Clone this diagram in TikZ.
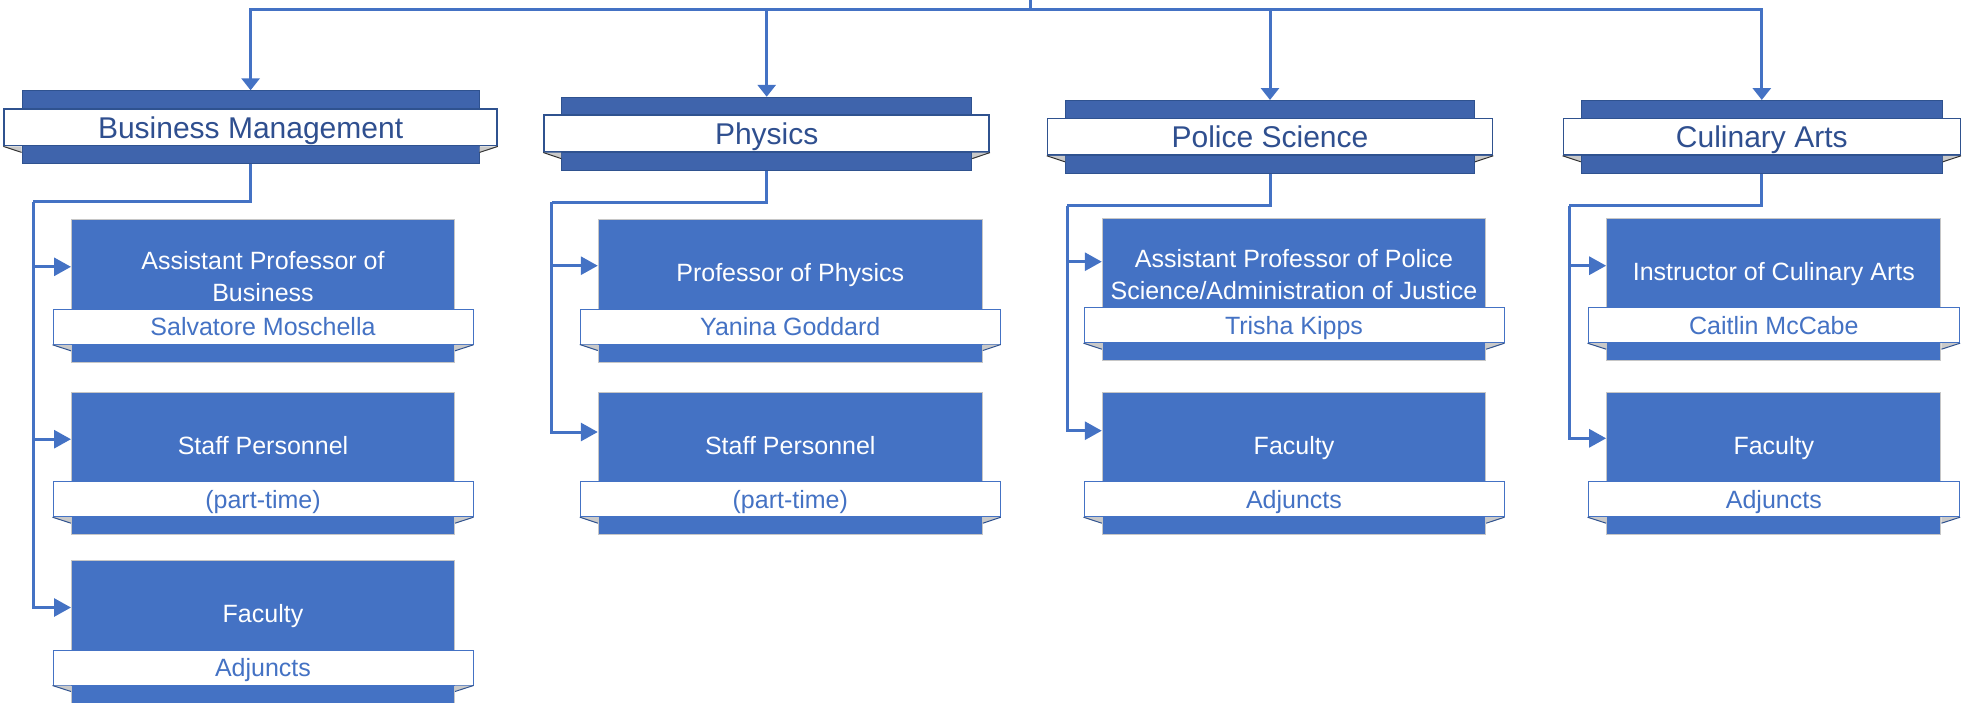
\documentclass[tikz,border=0pt]{standalone}
\usepackage{fontspec}
\setmainfont{Liberation Sans}
\usetikzlibrary{arrows.meta}

\definecolor{bandblue}{HTML}{3F64AC}
\definecolor{bandedge}{HTML}{2F528F}
\definecolor{boxblue}{HTML}{4472C4}
\definecolor{headtext}{HTML}{2F4F8F}
\definecolor{foldgray}{HTML}{C9C9C9}

% folded ends under a ribbon: ribbon, box behind it, colour of the crease
\newcommand{\ribbonfold}[3]{%
  \fill[foldgray] (#1.south west) -- (#2.west |- #1.south) -- ++(0,6) -- cycle;
  \draw[#3,line width=1pt] (#2.west |- #1.south) ++(0,6) -- (#1.south west);
  \fill[foldgray] (#1.south east) -- (#2.east |- #1.south) -- ++(0,6) -- cycle;
  \draw[#3,line width=1pt] (#2.east |- #1.south) ++(0,6) -- (#1.south east);}

\begin{document}
\begin{tikzpicture}[x=1pt,y=-1pt,
  link/.style={draw=boxblue,line width=3pt},
  down/.style={link,-{Triangle[length=12pt,width=18pt]}},
  side/.style={link,-{Triangle[length=17pt,width=18pt]}},
  headband/.style={rectangle,fill=bandblue,draw=bandedge,line width=1pt,minimum height=73pt,inner sep=0pt},
  headribbon/.style={rectangle,fill=white,draw=bandedge,line width=1.5pt,minimum height=36.7pt,inner sep=0pt,text=headtext,font=\fontsize{30}{36}\selectfont,text height=21.5pt,text depth=0pt},
  unitbox/.style={rectangle,fill=boxblue,draw=gray!45,line width=1pt,minimum height=142.5pt,inner sep=0pt,anchor=north},
  unitribbon/.style={rectangle,fill=white,draw=boxblue,line width=1pt,minimum height=35pt,inner sep=0pt,text=boxblue,font=\fontsize{25}{30}\selectfont,text height=17.9pt,text depth=0pt},
  unittext/.style={text=white,inner sep=0pt,font=\fontsize{25}{32}\selectfont,text height=17.9pt,text depth=0pt},
  unittwo/.style={text=white,inner sep=0pt,align=center,font=\fontsize{25}{32}\selectfont}]
\useasboundingbox (0,0) rectangle (1965,702);
\clip (0,0) rectangle (1965,702);

% department heads
\node[headband,minimum width=457pt] (bmband) at (250.6,127.3) {};
\node[headribbon,minimum width=493pt] (bmhead) at (250.6,127.3) {Business Management};
\node[headband,minimum width=410pt] (phband) at (766.7,133.8) {};
\node[headribbon,minimum width=445pt] (phhead) at (766.7,133.5) {Physics};
\node[headband,minimum width=409pt] (psband) at (1270,137) {};
\node[headribbon,minimum width=445pt] (pshead) at (1270,136.7) {Police Science};
\node[headband,minimum width=361pt] (caband) at (1761.8,137) {};
\node[headribbon,minimum width=397pt] (cahead) at (1761.8,136.7) {Culinary Arts};

% Business Management
\node[unitbox,minimum width=383pt] (bm1) at (263,219.3) {};
\node[unittwo] (bm1t) at (263,276.3) {Assistant Professor of\\Business};
\node[unitribbon,minimum width=420pt] (bm1r) at (263,326.8) {Salvatore Moschella};
\node[unitbox,minimum width=383pt] (bm2) at (263,391.7) {};
\node[unittext] (bm2t) at (263,445.7) {Staff Personnel};
\node[unitribbon,minimum width=420pt] (bm2r) at (263,499.2) {(part-time)};
\node[unitbox,minimum width=383pt] (bm3) at (263,560) {};
\node[unittext] (bm3t) at (263,614) {Faculty};
\node[unitribbon,minimum width=420pt] (bm3r) at (263,667.5) {Adjuncts};

% Physics
\node[unitbox,minimum width=384pt] (ph1) at (790.3,219) {};
\node[unittext] (ph1t) at (790.3,273) {Professor of Physics};
\node[unitribbon,minimum width=420pt] (ph1r) at (790.3,326.5) {Yanina Goddard};
\node[unitbox,minimum width=384pt] (ph2) at (790.3,391.7) {};
\node[unittext] (ph2t) at (790.3,445.7) {Staff Personnel};
\node[unitribbon,minimum width=420pt] (ph2r) at (790.3,499.2) {(part-time)};

% Police Science
\node[unitbox,minimum width=383.4pt] (ps1) at (1294,217.7) {};
\node[unittwo] (ps1t) at (1294,274.7) {Assistant Professor of Police\\Science/Administration of Justice};
\node[unitribbon,minimum width=420pt] (ps1r) at (1294,325.2) {Trisha Kipps};
\node[unitbox,minimum width=383.4pt] (ps2) at (1294,391.7) {};
\node[unittext] (ps2t) at (1294,445.7) {Faculty};
\node[unitribbon,minimum width=420pt] (ps2r) at (1294,499.2) {Adjuncts};

% Culinary Arts
\node[unitbox,minimum width=334.3pt] (ca1) at (1773.8,217.7) {};
\node[unittext] (ca1t) at (1773.8,271.7) {Instructor of Culinary Arts};
\node[unitribbon,minimum width=371.6pt] (ca1r) at (1773.8,325.2) {Caitlin McCabe};
\node[unitbox,minimum width=334.3pt] (ca2) at (1773.8,391.7) {};
\node[unittext] (ca2t) at (1773.8,445.7) {Faculty};
\node[unitribbon,minimum width=371.6pt] (ca2r) at (1773.8,499.2) {Adjuncts};

% folds
\ribbonfold{bmhead}{bmband}{black!80}
\ribbonfold{phhead}{phband}{black!80}
\ribbonfold{pshead}{psband}{black!80}
\ribbonfold{cahead}{caband}{black!80}
\ribbonfold{bm1r}{bm1}{bandedge}
\ribbonfold{bm2r}{bm2}{bandedge}
\ribbonfold{bm3r}{bm3}{bandedge}
\ribbonfold{ph1r}{ph1}{bandedge}
\ribbonfold{ph2r}{ph2}{bandedge}
\ribbonfold{ps1r}{ps1}{bandedge}
\ribbonfold{ps2r}{ps2}{bandedge}
\ribbonfold{ca1r}{ca1}{bandedge}
\ribbonfold{ca2r}{ca2}{bandedge}

% top connectors
\coordinate (top) at (1030,-2);
\coordinate (topjoin) at (1030,9.5);
\draw[link] (top) -- (topjoin);
\draw[down] (topjoin) -| (bmband.north);
\draw[down] (topjoin) -| (phband.north);
\draw[down] (topjoin) -| (psband.north);
\draw[down] (topjoin) -| (caband.north);

% connectors to the units
\coordinate (bmtrunk) at (33.3,201.7);
\draw[link] (bmband.south) |- (bmtrunk);
\draw[side] (bmtrunk) |- ([yshift=-47.5pt]bm1.north west);
\draw[side] (bmtrunk) |- ([yshift=-47.5pt]bm2.north west);
\draw[side] (bmtrunk) |- ([yshift=-47.5pt]bm3.north west);

\coordinate (phtrunk) at (551.7,202);
\draw[link] (phband.south) |- (phtrunk);
\draw[side] (phtrunk) |- ([yshift=-46.7pt]ph1.north west);
\draw[side] (phtrunk) |- ([yshift=-40.3pt]ph2.north west);

\coordinate (pstrunk) at (1067.3,205.7);
\draw[link] (psband.south) |- (pstrunk);
\draw[side] (pstrunk) |- ([yshift=-44pt]ps1.north west);
\draw[side] (pstrunk) |- ([yshift=-39pt]ps2.north west);

\coordinate (catrunk) at (1569,205.7);
\draw[link] (caband.south) |- (catrunk);
\draw[side] (catrunk) |- ([yshift=-48pt]ca1.north west);
\draw[side] (catrunk) |- ([yshift=-46.6pt]ca2.north west);
\end{tikzpicture}
\end{document}
